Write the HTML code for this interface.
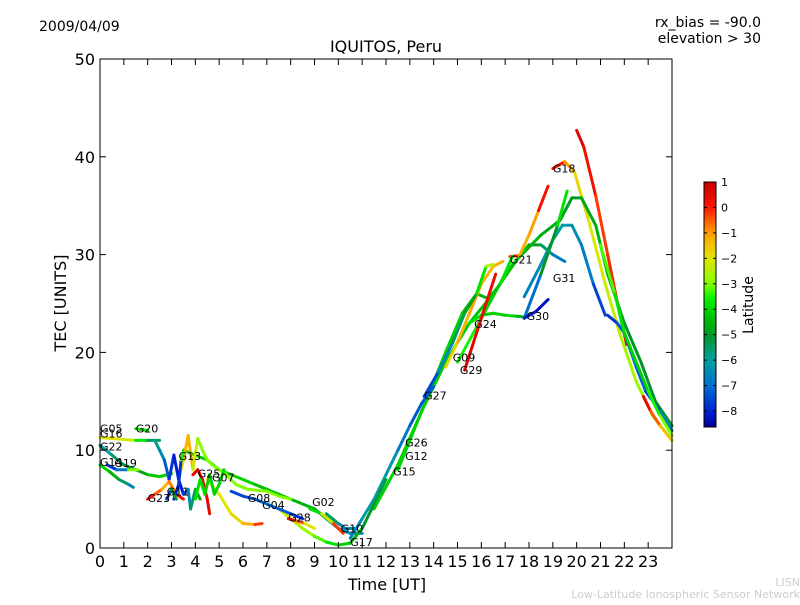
<!DOCTYPE html>
<html><head><meta charset="utf-8"><style>
body{margin:0;background:#fff;width:800px;height:600px;overflow:hidden;font-family:"Liberation Sans",sans-serif}
svg text{font-family:"DejaVu Sans","Liberation Sans",sans-serif}
</style></head><body>
<svg id="c" width="800" height="600" xmlns="http://www.w3.org/2000/svg">
<defs><linearGradient id="jetg" gradientUnits="userSpaceOnUse" x1="0" y1="182" x2="0" y2="427"></linearGradient></defs>
<text x="39" y="31" font-size="14">2009/04/09</text>
<text x="761" y="27" font-size="14" text-anchor="end">rx_bias = -90.0</text>
<text x="761" y="43" font-size="14" text-anchor="end">elevation &gt; 30</text>
<text x="386" y="52" font-size="16" text-anchor="middle">IQUITOS, Peru</text>
<text x="387" y="590" font-size="16" text-anchor="middle">Time [UT]</text>
<text x="66" y="303" font-size="16" text-anchor="middle" transform="rotate(-90 66 303)">TEC [UNITS]</text>
<text x="753" y="305" font-size="14" text-anchor="middle" transform="rotate(-90 753 305)">Latitude</text>
<text x="800" y="586" font-size="11" fill="#ccc" text-anchor="end">LISN</text>
<text x="800" y="598" font-size="11" fill="#ccc" text-anchor="end">Low-Latitude Ionospheric Sensor Network</text>
<g id="tracks"></g><g id="labels"></g><g id="axes"></g>
</svg>
<script>
const xTicks=[0,1,2,3,4,5,6,7,8,9,10,11,12,13,14,15,16,17,18,19,20,21,22,23];
const yTicks=[0,10,20,30,40,50];
const cbTicks=[1,0,-1,-2,-3,-4,-5,-6,-7,-8];
const tracks=[
[[19.0,38.8,0.5],[19.5,39.5,-0.5],[19.9,38.5,-1.5],[20.5,33.5,-2],[21.2,27,-2.2],[21.8,22,-2.5],[22.5,17,-2.7],[23.2,13.5,-3],[24,11,-3.2]],
[[20.0,42.7,0.8],[20.3,41,0.5],[20.8,36,0],[21.3,30,-0.5],[21.8,24,0.3],[22.1,20.8,0.8]],
[[12.5,8,-4],[13.5,14,-4],[14.5,19,-4],[15.5,23,-4.2],[16.5,26,-4.3],[17.5,29.5,-4.3],[18.5,32,-4.5],[19.3,33.5,-4.8],[19.8,35.8,-5],[20.2,35.8,-4.8],[20.8,33,-4.5],[21.3,28,-4.5],[22,23,-5],[22.7,19,-5],[23.3,15,-5],[24,12.5,-5]],
[[17.8,25.7,-6.5],[18.5,29,-6.5],[19.0,31.5,-6],[19.4,33,-6],[19.8,33,-6.2],[20.2,31,-6.5],[20.7,27,-7],[21.2,23.8,-8]],
[[17.8,23.5,-8],[18.5,28,-6],[19.2,33,-4],[19.6,36.5,-3.5]],
[[15,19,-3],[16,23.5,-4],[17,28,-4],[18,31,-4.5],[18.5,31,-5],[19.0,30,-6],[19.5,29.3,-7.5]],
[[17.2,29.8,0.5],[17.6,29.9,-1],[18,32,-1.5],[18.4,34.5,-0.5],[18.8,37,0.8]],
[[11.5,4,-4],[12.5,8.5,-4],[13.5,14,-4],[14.5,20,-4],[15.2,24,-4],[15.8,26,-4.5],[16.3,25.5,-4.5],[16.8,27,-4],[17.3,29.8,-3.5]],
[[15.5,23,-3.5],[16,23.8,-4],[16.5,24,-4],[17,23.8,-4],[17.5,23.7,-4],[17.9,23.6,-5]],
[[17.8,23.5,-8],[18.3,24.2,-8],[18.8,25.4,-8.5]],
[[14.5,18.5,-2],[15,21,-1.5],[15.5,24,-1],[16,27,-1],[16.5,28.8,-1.5],[16.9,29.3,-1]],
[[15.3,18.2,0.8],[15.8,22,0.5],[16.2,25,0.3],[16.6,28,0.5]],
[[13.6,15.5,-8],[14.2,18,-7],[14.8,21,-6],[15.3,24,-5],[15.8,26,-4.5],[16.2,28.8,-3],[16.5,29,-2]],
[[10.5,1,-7],[11,3,-6],[11.5,5,-6],[12,7.5,-6],[12.5,10,-6.5],[13,12.5,-7],[13.5,14.8,-7.5],[14,16.5,-7]],
[[0,11.3,-2],[0.5,11.2,-2],[1,11.1,-2],[1.5,11,-2.5],[2,11,-5],[2.5,11,-6]],
[[1.5,12.2,-3.5],[2,12,-4]],
[[0,10.5,-6],[0.5,9.5,-6],[1,8.5,-5],[1.5,8,-5],[2,7.5,-4.5],[2.5,7.3,-4],[3,7.6,-4]],
[[0,8.5,-4],[0.4,7.8,-4],[0.8,7,-5],[1.2,6.5,-6],[1.4,6.2,-7]],
[[0.3,8.5,-8],[0.7,8,-7.5],[1.2,8,-6],[1.6,8,0]],
[[3.5,10,-4],[4,9.5,-4],[4.5,9,-4],[5,8,-3.5],[5.5,7.5,-4],[6,7,-4],[6.5,6.5,-4],[7,6,-4.5],[7.5,5.5,-4],[8,5,-4.5],[8.5,4.5,-4.5],[9,4,-4.5],[9.5,3,-5],[10,2,-6],[10.5,1.5,-7],[11,1.5,-6]],
[[4.5,7,-2],[5,5.5,-2],[5.5,3.5,-2],[6,2.5,-1.5],[6.5,2.4,-1],[6.8,2.5,0.5]],
[[8.8,4,-4],[9.3,3.5,-3.5],[9.8,2.5,-1],[10.2,1.5,0.5]],
[[7.5,4,-2],[8,3,-2.5],[8.5,2,-2.5],[9,1.2,-3],[9.5,0.6,-3.5],[10,0.3,-4],[10.5,0.5,-4],[11,2,-5],[11.5,4.5,-5],[12,7,-5.5]],
[[5.5,5.8,-7],[6,5.3,-8],[6.5,5,-7],[7,4.5,-7],[7.5,4,-7],[8,3.5,-7.5],[8.5,3,-8]],
[[7.9,3,0.5],[8.2,2.8,0],[8.6,2.5,-1],[9,2,-3]],
[[9.5,3.5,-5],[10,2.5,-6],[10.3,2,-7],[10.7,2,-6]],
[[3.3,7,-2],[3.5,9,-1.5],[3.7,11.5,-1],[3.9,8,-1.5],[4.1,11.2,-3],[4.3,10,-3],[4.5,9,-3],[4.7,8.5,-3],[5,8,-3],[5.3,7.5,-3],[5.7,6.5,-3],[6.2,6,-3],[7,5.8,-3],[7.5,5.3,-3],[8,5,-3]],
[[2.3,11,-5.5],[2.5,10,-6],[2.7,9,-7],[2.9,7,-7.5],[3.1,9.5,-8],[3.3,7,-8],[3.5,5.5,-8],[3.7,6,-7],[3.8,4,-6],[4,6,-5],[4.2,5,-4]],
[[3.9,7.5,0.5],[4.1,8,0.5],[4.3,7,0.5],[4.5,5,0.3],[4.6,3.5,0.8]],
[[2.0,5,0.5],[2.3,5.5,0],[2.6,6,-1],[2.9,6.8,-1.5],[3.2,5.5,0],[3.5,5,0.5]],
[[3.1,5,-8],[3.3,6.5,-8],[3.4,9,-7.5],[3.5,9.8,0.5]],
[[4,5,-4],[4.2,7,-3.5],[4.4,5.5,-4],[4.6,7.5,-4],[4.8,5.5,-4],[5,6.5,-4],[5.2,8,-4]],
[[2.8,5,-8],[3,6,-7],[3.2,5,-3]],
[[21.3,23.8,-8],[21.7,23,-7.5],[22,22,-7],[22.5,18.5,-7],[22.9,16,-7.5],[23.2,15,-8],[23.5,14,-7],[24,12,-6]],
[[22.8,15.5,0.8],[23.1,14,0],[23.5,12.5,-1],[24,11,-2]],
[[21,31,-3],[21.6,26,-3.5],[22,22,-4],[22.5,19,-4],[23,16,-4],[23.5,13.5,-3],[24,11.5,-3]]
];
const labelNames=["G18","G21","G31","G24","G30","G09","G29","G27","G26","G12","G15","G02","G10","G17","G28","G04","G08","G07","G25","G13","G11","G23","G20","G05","G16","G22","G14","G19"];
const labelTimes=[19.0,17.2,19.0,15.7,17.9,14.8,15.1,13.6,12.8,12.8,12.3,8.9,10.1,10.5,7.9,6.8,6.2,4.7,4.1,3.3,2.8,2.0,1.5,0,0,0,0,0.6];
const labelTecs=[38.8,29.5,27.6,22.9,23.7,19.5,18.2,15.6,10.8,9.4,7.8,4.7,2.0,0.6,3.1,4.4,5.1,7.2,7.6,9.4,5.8,5.1,12.2,12.2,11.7,10.4,8.8,8.7];
const X=t=>100+t*572/24, Y=v=>548-v*489/50;
const cbY=l=>182+(1-l)*(411-182)/9;
const cmapLat=[1,0,-1,-2,-3,-3.6,-4.3,-5,-6,-7,-8,-8.6];
const cmapRGB=[[200,0,0],[255,20,0],[255,160,0],[225,230,0],[130,255,0],[0,240,0],[0,190,0],[0,150,40],[0,160,160],[0,110,210],[0,30,210],[0,0,150]];
function jet(l){if(l>=1)return 'rgb(200,0,0)';
 for(let i=0;i<cmapLat.length-1;i++){const a=cmapLat[i],b=cmapLat[i+1];
  if(l<=a&&l>=b){const f=(a-l)/(a-b),c=cmapRGB[i].map((v,k)=>Math.round(v+(cmapRGB[i+1][k]-v)*f));return 'rgb('+c.join(',')+')';}}
 return 'rgb(0,0,150)';}
const NS="http://www.w3.org/2000/svg";
function mk(tag,attrs,parent){const e=document.createElementNS(NS,tag);for(const k in attrs)e.setAttribute(k,attrs[k]);parent.appendChild(e);return e;}
const grad=document.getElementById('jetg');
for(let i=0;i<=40;i++){const l=1-9.6*i/40;mk('stop',{offset:i/40,'stop-color':jet(l)},grad);}
const tg=document.getElementById('tracks');
tracks.forEach((tr,i)=>{const g=mk('g',{},tg);
 
 
 for(let j=0;j<tr.length-1;j++){const a=tr[j],b=tr[j+1];
  const ln=mk('line',{x1:X(a[0]),y1:Y(a[1]),x2:X(b[0]),y2:Y(b[1]),stroke:jet((a[2]+b[2])/2),'stroke-width':3,'stroke-linecap':'round'},g);
  
  }
});
const lg=document.getElementById('labels');
labelNames.forEach((n,i)=>{const t=mk('text',{x:X(labelTimes[i]),y:Y(labelTecs[i])+4,'font-size':11},lg);t.textContent=n;
 
 });
const ax=document.getElementById('axes');
const fr=mk('rect',{x:100,y:59,width:572,height:489,fill:'none',stroke:'#000','stroke-width':1},ax);


xTicks.forEach(t=>{const x=X(t);
 mk('line',{x1:x,y1:548,x2:x,y2:542,stroke:'#000'},ax);mk('line',{x1:x,y1:59,x2:x,y2:65,stroke:'#000'},ax);
 const tx=mk('text',{x:x,y:567,'font-size':16,'text-anchor':'middle'},ax);tx.textContent=t;
 
 });
yTicks.forEach(v=>{const y=Y(v);
 mk('line',{x1:100,y1:y,x2:106,y2:y,stroke:'#000'},ax);mk('line',{x1:672,y1:y,x2:666,y2:y,stroke:'#000'},ax);
 const tx=mk('text',{x:95,y:y+6,'font-size':16,'text-anchor':'end'},ax);tx.textContent=v;
 
 });
const cb=mk('rect',{x:704,y:182,width:12,height:245,fill:'url(#jetg)',stroke:'#000'},ax);


cbTicks.forEach(l=>{const y=cbY(l);
 mk('line',{x1:704,y1:y,x2:707,y2:y,stroke:'#000'},ax);mk('line',{x1:716,y1:y,x2:713,y2:y,stroke:'#000'},ax);
 const tx=mk('text',{x:721,y:y+4,'font-size':11},ax);tx.textContent=(l<0?'\u2212'+(-l):l);
 
 });
</script>
</body></html>
